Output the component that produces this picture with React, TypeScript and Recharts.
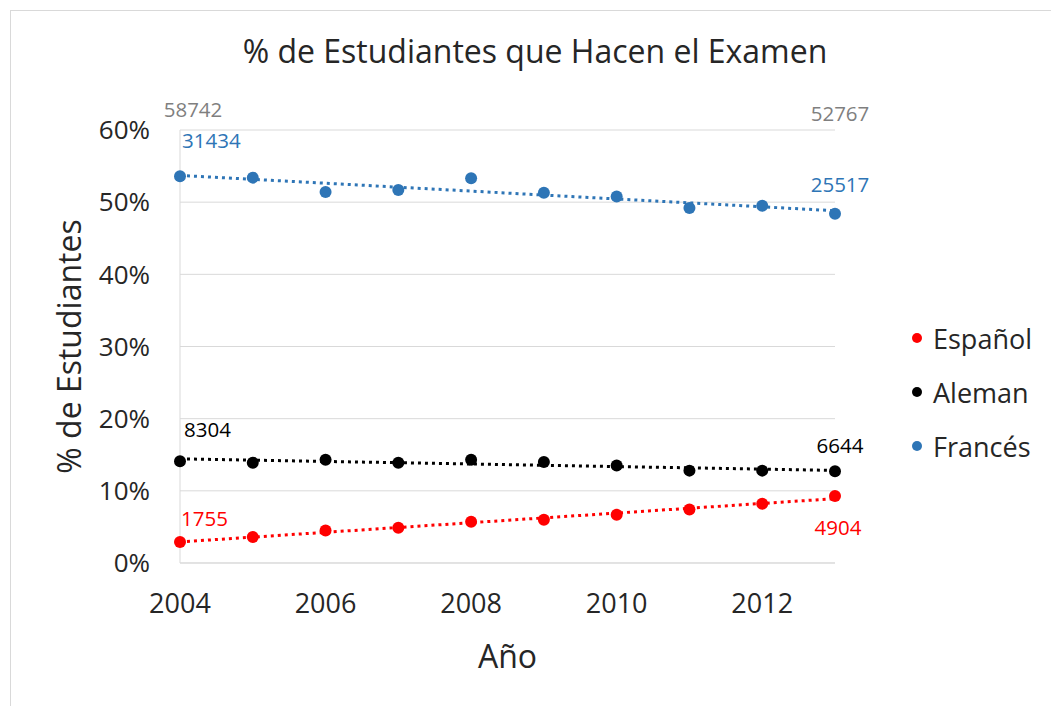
import React from "react";
import {
  ScatterChart,
  Scatter,
  XAxis,
  YAxis,
  CartesianGrid,
  Legend,
  ReferenceDot,
} from "recharts";

const years = [2004, 2005, 2006, 2007, 2008, 2009, 2010, 2011, 2012, 2013];
const espanolPct = [2.9, 3.6, 4.5, 4.9, 5.7, 6.0, 6.7, 7.4, 8.2, 9.3];
const alemanPct = [14.1, 13.9, 14.3, 13.9, 14.3, 14.0, 13.5, 12.8, 12.8, 12.7];
const francesPct = [53.6, 53.4, 51.4, 51.7, 53.3, 51.3, 50.8, 49.2, 49.5, 48.4];

// student counts for first and last year
const totalStudents = [58742, 52767];
const espanolCounts = [1755, 4904];
const alemanCounts = [8304, 6644];
const francesCounts = [31434, 25517];

const seriesNames = ["Español", "Aleman", "Francés"];
const yTicks = [0, 10, 20, 30, 40, 50, 60];
const xTicks = [2004, 2006, 2008, 2010, 2012];

const COLORS = {
  espanol: "#ff0000",
  aleman: "#000000",
  frances: "#2e75b6",
  total: "#7f7f7f",
};

const FONT = "'Open Sans', sans-serif";

const toPoints = (vals: number[]) => years.map((year, i) => ({ year, pct: vals[i] }));

const dotted = (color: string) => ({
  stroke: color,
  strokeWidth: 3,
  strokeDasharray: "3 4",
});

const dotShape = (props: any) => (
  <circle cx={props.cx} cy={props.cy} r={6} fill={props.fill} />
);

// label placed at a data point, shifted by dx/dy (baseline)
function pointLabel(text: number, color: string, dx: number, dy: number, anchor: string) {
  return {
    content: (props: any) => {
      const vb = props.viewBox || {};
      const cx = vb.x + (vb.width || 0) / 2;
      const cy = vb.y + (vb.height || 0) / 2;
      return (
        <text
          x={cx + dx}
          y={cy + dy}
          textAnchor={anchor}
          fill={color}
          fontSize={20.5}
          fontFamily={FONT}
        >
          {text}
        </text>
      );
    },
  };
}

function LegendContent({ payload }: any) {
  const items = [...(payload || [])].sort(
    (a: any, b: any) => seriesNames.indexOf(a.value) - seriesNames.indexOf(b.value)
  );
  return (
    <div style={{ fontFamily: FONT, fontSize: 27, color: "#262626" }}>
      {items.map((entry: any) => (
        <div
          key={entry.value}
          style={{ display: "flex", alignItems: "center", height: 54 }}
        >
          <span
            style={{
              width: 10,
              height: 10,
              borderRadius: "50%",
              background: entry.color,
              marginRight: 11,
              display: "inline-block",
            }}
          />
          <span>{entry.value}</span>
        </div>
      ))}
    </div>
  );
}

export default function App() {
  const first = years[0];
  const last = years[years.length - 1];
  return (
    <div
      style={{
        position: "absolute",
        left: 0,
        top: 0,
        width: 1051,
        height: 706,
        background: "white",
        overflow: "hidden",
      }}
    >
      <div
        style={{
          position: "absolute",
          left: 10,
          top: 10,
          width: 1060,
          height: 720,
          borderLeft: "1px solid #d9d9d9",
          borderTop: "1px solid #d9d9d9",
        }}
      />
      <div
        style={{
          position: "absolute",
          left: 0,
          width: 1070,
          top: 29,
          textAlign: "center",
          fontFamily: FONT,
          fontSize: 32,
          color: "#262626",
        }}
      >
        % de Estudiantes que Hacen el Examen
      </div>
      <ScatterChart
        width={1051}
        height={706}
        margin={{ top: 130, right: 77, bottom: 0, left: 0 }}
        style={{ position: "absolute", left: 0, top: 0 }}
      >
        <CartesianGrid vertical={false} stroke="#d9d9d9" />
        <XAxis
          type="number"
          dataKey="year"
          domain={[2004, 2013]}
          ticks={xTicks}
          interval={0}
          height={143}
          tickLine={false}
          tickSize={0}
          tickMargin={31}
          axisLine={{ stroke: "#d9d9d9" }}
          tick={{ fontSize: 27, fontFamily: FONT, fill: "#262626" }}
          label={{
            value: "Año",
            position: "center",
            dy: 22,
            fontSize: 32,
            fontFamily: FONT,
            fill: "#262626",
          }}
        />
        <YAxis
          type="number"
          dataKey="pct"
          domain={[0, 60]}
          ticks={yTicks}
          interval={0}
          width={180}
          tickLine={false}
          tickSize={0}
          tickMargin={30}
          axisLine={{ stroke: "#d9d9d9" }}
          tickFormatter={(v) => `${v}%`}
          tick={{ fontSize: 26, fontFamily: FONT, fill: "#262626" }}
          label={{
            value: "% de Estudiantes",
            angle: -90,
            position: "center",
            dx: -20,
            fontSize: 32,
            fontFamily: FONT,
            fill: "#262626",
          }}
        />
        <Legend
          layout="vertical"
          align="right"
          verticalAlign="middle"
          wrapperStyle={{ left: 912, top: 311, width: 139 }}
          content={<LegendContent />}
        />
        <Scatter
          name="Español"
          data={toPoints(espanolPct)}
          fill={COLORS.espanol}
          shape={dotShape}
          line={dotted(COLORS.espanol)}
          lineType="fitting"
          isAnimationActive={false}
        />
        <Scatter
          name="Aleman"
          data={toPoints(alemanPct)}
          fill={COLORS.aleman}
          shape={dotShape}
          line={dotted(COLORS.aleman)}
          lineType="fitting"
          isAnimationActive={false}
        />
        <Scatter
          name="Francés"
          data={toPoints(francesPct)}
          fill={COLORS.frances}
          shape={dotShape}
          line={dotted(COLORS.frances)}
          lineType="fitting"
          isAnimationActive={false}
        />
        <ReferenceDot x={first} y={60} r={0} fill="none" stroke="none" ifOverflow="visible"
          label={pointLabel(totalStudents[0], COLORS.total, 13, -13, "middle")} />
        <ReferenceDot x={last} y={60} r={0} fill="none" stroke="none" ifOverflow="visible"
          label={pointLabel(totalStudents[1], COLORS.total, 5, -9, "middle")} />
        <ReferenceDot x={first} y={francesPct[0]} r={0} fill="none" stroke="none" ifOverflow="visible"
          label={pointLabel(francesCounts[0], COLORS.frances, 2, -28, "start")} />
        <ReferenceDot x={last} y={francesPct[9]} r={0} fill="none" stroke="none" ifOverflow="visible"
          label={pointLabel(francesCounts[1], COLORS.frances, 5, -22, "middle")} />
        <ReferenceDot x={first} y={alemanPct[0]} r={0} fill="none" stroke="none" ifOverflow="visible"
          label={pointLabel(alemanCounts[0], COLORS.aleman, 4, -24, "start")} />
        <ReferenceDot x={last} y={alemanPct[9]} r={0} fill="none" stroke="none" ifOverflow="visible"
          label={pointLabel(alemanCounts[1], COLORS.aleman, 5, -18, "middle")} />
        <ReferenceDot x={first} y={espanolPct[0]} r={0} fill="none" stroke="none" ifOverflow="visible"
          label={pointLabel(espanolCounts[0], COLORS.espanol, 1, -16, "start")} />
        <ReferenceDot x={last} y={espanolPct[9]} r={0} fill="none" stroke="none" ifOverflow="visible"
          label={pointLabel(espanolCounts[1], COLORS.espanol, 3, 39, "middle")} />
      </ScatterChart>
    </div>
  );
}
